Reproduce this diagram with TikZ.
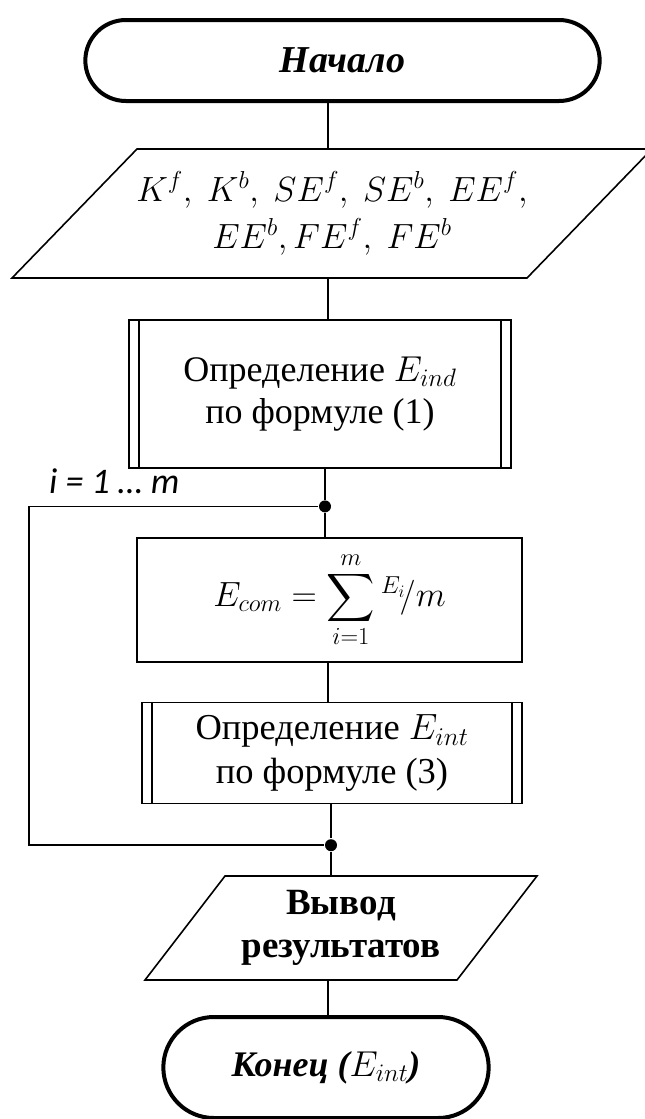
\RequirePackage{fix-cm}
\documentclass[tikz,border=0pt]{standalone}
\usepackage{amsmath}
\usepackage{graphicx}
\usepackage{fontspec}
\setmainfont{Liberation Serif}
\newfontfamily\calibri{Carlito}
\usetikzlibrary{positioning,shapes.misc}

\begin{document}
\begin{tikzpicture}[
  x=1pt, y=-1pt,
  line width=1.6pt,
  term/.style={draw, rounded rectangle, line width=4pt, align=center,
    font=\fontsize{38}{44}\selectfont\bfseries\itshape},
  io/.style={rectangle, align=center, inner sep=0pt, outer sep=0pt},
  proc/.style={draw, rectangle, align=center, font=\fontsize{36}{42}\selectfont},
  subproc/.style={proc, path picture={
    \draw ([xshift=10pt]path picture bounding box.north west) -- ([xshift=10pt]path picture bounding box.south west);
    \draw ([xshift=-10pt]path picture bounding box.north east) -- ([xshift=-10pt]path picture bounding box.south east);}},
  dot/.style={circle, fill, inner sep=0pt, minimum size=12pt}
]
\useasboundingbox (0,0) rectangle (645,1119);

% --- start and input ---
\node[term, minimum width=521pt, minimum height=81pt] (start) at (342.5,60.5) {Начало};
\node[io, below=46pt of start, xshift=-10.5pt, minimum width=515pt, minimum height=129pt,
  font=\fontsize{35}{47}\selectfont] (inp) {$K^f,\ K^b,\ SE^f,\ SE^b,\ EE^f,$\\$EE^b,FE^f,\ FE^b$};
\draw ([xshift=62.5pt]inp.north west) -- ([xshift=62.5pt]inp.north east)
  -- ([xshift=-62.5pt]inp.south east) -- ([xshift=-62.5pt]inp.south west) -- cycle;

% --- loop body ---
\node[subproc, below=41pt of inp, xshift=-12pt, minimum width=382pt, minimum height=148pt] (ind) {Определение $E_{ind}$\\по формуле (1)};
\node[dot, below=31pt of ind, xshift=5pt] (j1) {};
\node[proc, below=24pt of j1, xshift=4.5pt, minimum width=385pt, minimum height=124pt, inner ysep=0pt,
  font=\fontsize{35}{40}\selectfont] (com)
  {$E_{com}=\mathop{\vcenter{\hbox{\scalebox{1.35}{$\displaystyle\sum$}}}}\limits_{i=1}^{m}{}^{E_i}\!/m$};
\node[subproc, below=39pt of com, xshift=2.5pt, minimum width=380pt, minimum height=101pt,
  font=\fontsize{36.5}{44}\selectfont] (int) {Определение $E_{int}$\\по формуле (3)};
\node[dot, below=34pt of int, xshift=-1pt] (j2) {};

% --- output and end ---
\node[io, below=24pt of j2, xshift=10pt, minimum width=312pt, minimum height=104pt,
  font=\fontsize{37}{43}\selectfont\bfseries] (out) {Вывод\\результатов};
\draw ([xshift=40pt]out.north west) -- ([xshift=40pt]out.north east)
  -- ([xshift=-40pt]out.south east) -- ([xshift=-40pt]out.south west) -- cycle;
\node[term, below=35pt of out, xshift=-15pt, minimum width=332pt, minimum height=101pt,
  font=\fontsize{36}{42}\selectfont\bfseries\itshape] (stop) {Конец ($E_{int}$)};

\node[anchor=base west, font=\fontsize{36}{40}\selectfont\calibri\itshape] (cnt) at (45,493) {i = 1 … m};

\coordinate (ax) at (328,0);
\coordinate (lp) at (29,0);
\draw (start.south -| ax) -- (inp.north -| ax);
\draw (inp.south -| ax) -- (ind.north -| ax);
\draw (ind.south -| j1) -- (j1) -- (j1 |- com.north);
\draw (com.south -| ax) -- (int.north -| ax);
\draw (int.south -| j2) -- (j2) -- (j2 |- out.north);
\draw (out.south -| ax) -- (stop.north -| ax);
\draw (j1) -- (j1 -| lp) -- (j2 -| lp) -- (j2);

\end{tikzpicture}
\end{document}
